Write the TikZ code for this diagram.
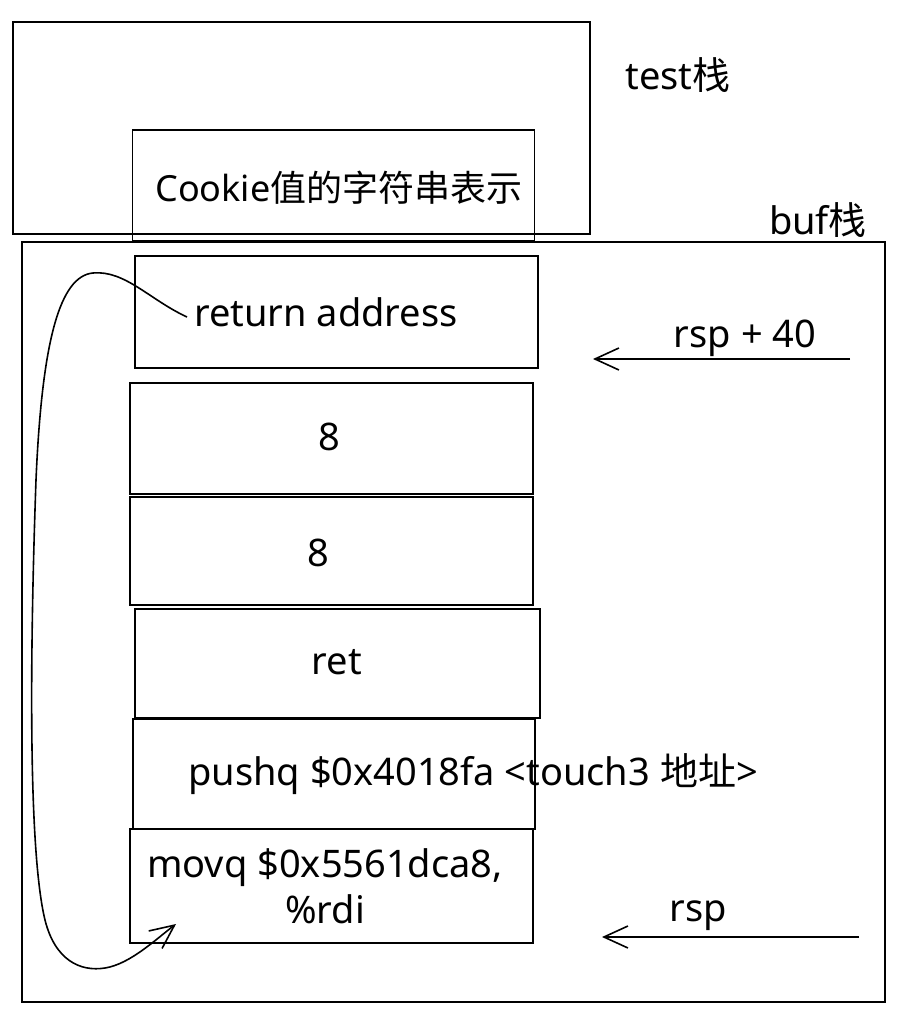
\documentclass[tikz,border=0pt]{standalone}
\usepackage{fontspec}
\setmainfont{Noto Sans}
\newfontfamily\cjk{Noto Sans CJK SC}
\usetikzlibrary{arrows.meta}
\begin{document}
\begin{tikzpicture}[x=1pt,y=-1pt,
  box/.style={draw, line width=1.6pt, inner sep=0pt},
  lbl/.style={font=\fontsize{38}{46}\selectfont, inner sep=0pt, align=center},
  conn/.style={line width=1.6pt, -{Straight Barb[length=24pt,width=22pt,line width=1.6pt]}}]
\useasboundingbox[fill=white] (0,0) rectangle (916,1024);
% boxes
\node[box, minimum width=577pt, minimum height=212pt] (test) at (301.5,128) {};
\node[box, minimum width=402pt, minimum height=111pt] (cookie) at (333.5,185.5) {};
\node[box, minimum width=863pt, minimum height=760pt] (buf) at (453.5,622) {};
\node[box, minimum width=403pt, minimum height=112pt] (ra) at (336.5,312) {};
\node[box, minimum width=403pt, minimum height=111pt] (e1) at (331.5,438.5) {};
\node[box, minimum width=403pt, minimum height=108pt] (e2) at (331.5,551) {};
\node[box, minimum width=405pt, minimum height=109pt] (ret) at (337.5,663.5) {};
\node[box, minimum width=402pt, minimum height=110pt] (push) at (334,774) {};
\node[box, minimum width=403pt, minimum height=114pt] (movq) at (331.5,886) {};
% texts
\node[lbl, font=\fontsize{36}{44}\selectfont] (tcookie) at (339,188) {Cookie{\cjk 值的字符串表示}};
\node[lbl] (ltest) at (678,75) {test{\cjk 栈}};
\node[lbl] (lbuf) at (818,220) {buf{\cjk 栈}};
\node[lbl] (tra) at (326,312) {return address};
\node[lbl] (t1) at (329,437) {8};
\node[lbl] (t2) at (318,553) {8};
\node[lbl] (tret) at (337,662) {ret};
\node[lbl] (tpush) at (473,774) {pushq \$0x4018fa <touch3 {\cjk 地址}>};
\node[lbl] (tmovq) at (325,886) {movq \$0x5561dca8,\\\%rdi};
\node[lbl] (l40) at (745,338) {rsp + 40};
\node[lbl] (lrsp) at (698,916) {rsp};
% arrows
\coordinate (a40s) at (850,359);
\coordinate (a40e) at (593,359);
\coordinate (arsps) at (859,937);
\coordinate (arspe) at (602,937);
\draw[conn] (a40s) -- (a40e);
\draw[conn] (arsps) -- (arspe);
\coordinate (cs) at (187,317);
\coordinate (ce) at (176,924);
\draw[conn] (cs) .. controls (150,300) and (125,270) .. (93,273)
  .. controls (60,276) and (42,340) .. (36,480)
  .. controls (30,650) and (28,850) .. (45,920)
  .. controls (55,960) and (80,972) .. (105,968)
  .. controls (130,964) and (155,940) .. (ce);
\end{tikzpicture}
\end{document}
